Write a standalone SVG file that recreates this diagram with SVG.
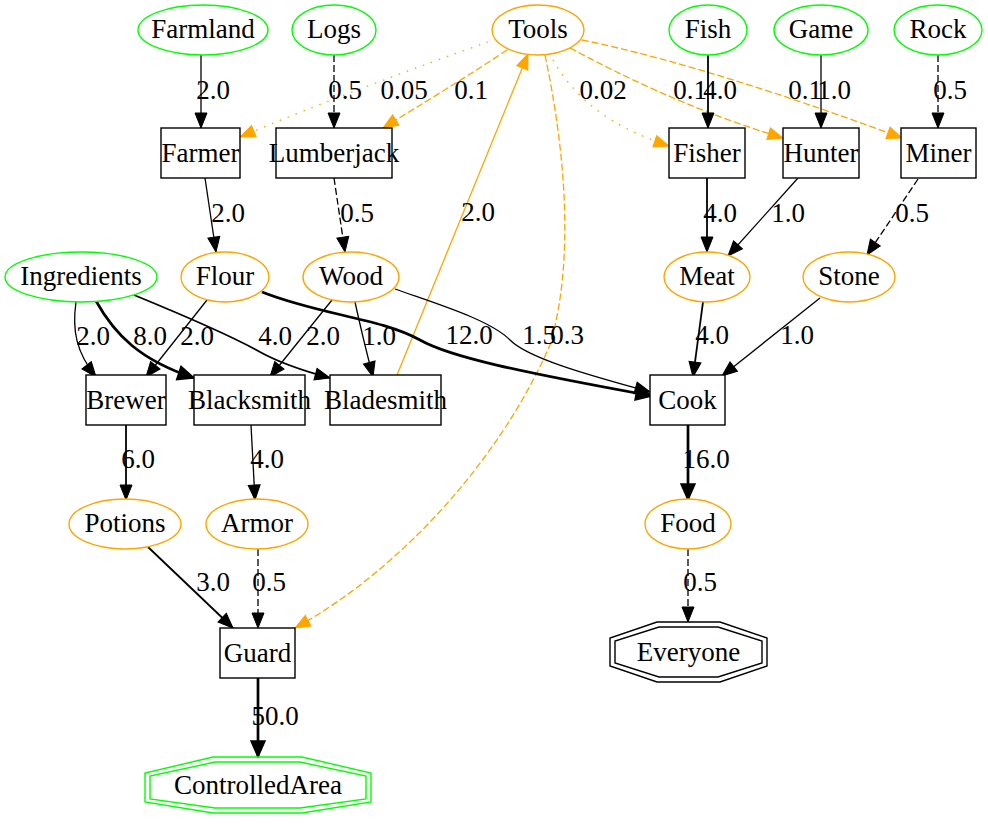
<svg xmlns="http://www.w3.org/2000/svg" width="988" height="824" viewBox="0 0 988 824">
<style>
text{font-family:"Liberation Serif","Times New Roman",serif;font-size:27px;fill:#000;text-anchor:middle}
.src{fill:#fff;stroke:#00ff00;stroke-width:1.4}
.res{fill:#fff;stroke:#ffa500;stroke-width:1.4}
.job{fill:#fff;stroke:#000;stroke-width:1.4}
.sinkg{fill:none;stroke:#00ff00;stroke-width:1.4}
.sinkb{fill:none;stroke:#000;stroke-width:1.4}
.e{fill:none;stroke:#000;stroke-width:1.3;marker-end:url(#ab)}
.m{stroke-width:1.8}
.b{stroke-width:2.7;marker-end:url(#abb)}
.o{stroke:#ffa500;marker-end:url(#ao)}
.d{stroke-dasharray:7,3}
.t{stroke-dasharray:1.5,7}
</style>
<defs>
<marker id="ab" markerUnits="userSpaceOnUse" markerWidth="16" markerHeight="13" refX="15" refY="6" orient="auto" overflow="visible"><path d="M0,0 L15,6 L0,12 Z" fill="#000" stroke="#000" stroke-width="1" stroke-dasharray="none"/></marker>
<marker id="abb" markerUnits="userSpaceOnUse" markerWidth="17" markerHeight="14" refX="16" refY="7" orient="auto" overflow="visible"><path d="M0,0 L16,7 L0,14 Z" fill="#000" stroke="#000" stroke-width="1.5" stroke-dasharray="none"/></marker>
<marker id="ao" markerUnits="userSpaceOnUse" markerWidth="16" markerHeight="13" refX="15" refY="6" orient="auto" overflow="visible"><path d="M0,0 L15,6 L0,12 Z" fill="#ffa500" stroke="#ffa500" stroke-width="1" stroke-dasharray="none"/></marker>
</defs>
<rect width="988" height="824" fill="#fff"/>
<g id="edges">
<path class="e" d="M201,55 L201,128"/>
<path class="e d" d="M334,55 L334,128"/>
<path class="e o t" d="M488,42 C420,66 320,103 240,137"/>
<path class="e o d" d="M507,50 C470,75 420,105 383,128"/>
<path class="e o" d="M397,375 L528,54"/>
<path class="e o d" d="M545,55 C565,150 575,260 550,345 C500,460 400,570 295,628"/>
<path class="e o t" d="M553,60 C572,92 600,123 669,146"/>
<path class="e o d" d="M570,48 C615,72 690,110 783,138"/>
<path class="e o d" d="M582,40 C680,60 800,100 902,138"/>
<path class="e m" d="M708,55 L708,128"/>
<path class="e" d="M821,55 L821,128"/>
<path class="e d" d="M938,55 L938,128"/>
<path class="e" d="M205,178 L216,252"/>
<path class="e d" d="M334,178 L345,252"/>
<path class="e m" d="M707,178 L707,252"/>
<path class="e" d="M798,178 L728,256"/>
<path class="e d" d="M918,179 L867,255"/>
<path class="e" d="M76,302 C72,330 76,352 96,377"/>
<path class="e b" d="M96,301 C115,335 140,360 194,378"/>
<path class="e m" d="M134,295 C190,318 230,335 260,352 C280,363 300,370 330,378"/>
<path class="e" d="M207,300 L146,377"/>
<path class="e b" d="M262,292 C320,315 380,318 420,340 C450,357 520,372 652,396"/>
<path class="e" d="M332,300 L270,377"/>
<path class="e" d="M355,302 C360,325 366,350 373,377"/>
<path class="e" d="M395,289 C440,305 490,320 510,340 C530,360 600,378 650,392"/>
<path class="e m" d="M703,302 L693,377"/>
<path class="e" d="M820,298 L722,376"/>
<path class="e m" d="M126,425 L126,500"/>
<path class="e" d="M251,425 L255,500"/>
<path class="e b" d="M688,425 L688,500"/>
<path class="e m" d="M148,547 L233,628"/>
<path class="e d" d="M258,549 L258,628"/>
<path class="e d" d="M688,549 L688,622"/>
<path class="e b" d="M258,678 L258,757"/>
<text x="213" y="99">2.0</text>
<text x="345" y="99">0.5</text>
<text x="404" y="99">0.05</text>
<text x="471" y="99">0.1</text>
<text x="603" y="99">0.02</text>
<text x="690" y="99">0.1</text>
<text x="720" y="99">4.0</text>
<text x="805" y="99">0.1</text>
<text x="834" y="99">1.0</text>
<text x="950" y="99">0.5</text>
<text x="228" y="222">2.0</text>
<text x="357" y="222">0.5</text>
<text x="478" y="221">2.0</text>
<text x="720" y="222">4.0</text>
<text x="788" y="222">1.0</text>
<text x="912" y="222">0.5</text>
<text x="93" y="345">2.0</text>
<text x="150" y="345">8.0</text>
<text x="197" y="345">2.0</text>
<text x="275" y="345">4.0</text>
<text x="323" y="345">2.0</text>
<text x="379" y="345">1.0</text>
<text x="469" y="344">12.0</text>
<text x="539" y="344">1.5</text>
<text x="567" y="344">0.3</text>
<text x="712" y="344">4.0</text>
<text x="797" y="344">1.0</text>
<text x="138" y="468">6.0</text>
<text x="267" y="468">4.0</text>
<text x="706" y="468">16.0</text>
<text x="213" y="591">3.0</text>
<text x="269" y="591">0.5</text>
<text x="700" y="591">0.5</text>
<text x="275" y="725">50.0</text>
</g>
<g id="Farmland"><ellipse class="src" cx="203" cy="30" rx="65" ry="25"/><text x="203" y="38">Farmland</text></g>
<g id="Logs"><ellipse class="src" cx="334" cy="30" rx="42" ry="25"/><text x="334" y="38">Logs</text></g>
<g id="Tools"><ellipse class="res" cx="538" cy="30" rx="46" ry="25"/><text x="538" y="38">Tools</text></g>
<g id="Fish"><ellipse class="src" cx="708" cy="30" rx="39" ry="25"/><text x="708" y="38">Fish</text></g>
<g id="Game"><ellipse class="src" cx="821" cy="30" rx="47" ry="25"/><text x="821" y="38">Game</text></g>
<g id="Rock"><ellipse class="src" cx="938" cy="30" rx="44" ry="25"/><text x="938" y="38">Rock</text></g>
<g id="Farmer"><rect class="job" x="161" y="128" width="79" height="50"/><text x="200.5" y="162">Farmer</text></g>
<g id="Lumberjack"><rect class="job" x="276" y="128" width="116" height="50"/><text x="334" y="162">Lumberjack</text></g>
<g id="Fisher"><rect class="job" x="669" y="128" width="76" height="50"/><text x="707" y="162">Fisher</text></g>
<g id="Hunter"><rect class="job" x="783" y="128" width="76" height="50"/><text x="821" y="162">Hunter</text></g>
<g id="Miner"><rect class="job" x="901" y="128" width="75" height="50"/><text x="938.5" y="162">Miner</text></g>
<g id="Ingredients"><ellipse class="src" cx="81" cy="277" rx="76" ry="25"/><text x="81" y="285">Ingredients</text></g>
<g id="Flour"><ellipse class="res" cx="225" cy="277" rx="44" ry="25"/><text x="225" y="285">Flour</text></g>
<g id="Wood"><ellipse class="res" cx="351" cy="277" rx="48" ry="25"/><text x="351" y="285">Wood</text></g>
<g id="Meat"><ellipse class="res" cx="707" cy="277" rx="43" ry="25"/><text x="707" y="285">Meat</text></g>
<g id="Stone"><ellipse class="res" cx="849" cy="277" rx="46" ry="25"/><text x="849" y="285">Stone</text></g>
<g id="Brewer"><rect class="job" x="86" y="375" width="80" height="50"/><text x="126" y="409">Brewer</text></g>
<g id="Blacksmith"><rect class="job" x="194" y="375" width="111" height="50"/><text x="249.5" y="409">Blacksmith</text></g>
<g id="Bladesmith"><rect class="job" x="330" y="375" width="111" height="50"/><text x="385.5" y="409">Bladesmith</text></g>
<g id="Cook"><rect class="job" x="650" y="375" width="75" height="50"/><text x="687.5" y="409">Cook</text></g>
<g id="Potions"><ellipse class="res" cx="125" cy="524" rx="56" ry="25"/><text x="125" y="532">Potions</text></g>
<g id="Armor"><ellipse class="res" cx="257" cy="524" rx="51" ry="25"/><text x="257" y="532">Armor</text></g>
<g id="Food"><ellipse class="res" cx="688" cy="524" rx="43" ry="25"/><text x="688" y="532">Food</text></g>
<g id="Guard"><rect class="job" x="220" y="628" width="75" height="50"/><text x="257.5" y="662">Guard</text></g>
<g id="Everyone"><polygon class="sinkb" points="657,622 720,622 767,638 767,666 720,682 657,682 610,666 610,638"/><polygon class="sinkb" points="659,627 718,627 762,641 762,663 718,677 659,677 615,663 615,641"/><text x="688.5" y="661">Everyone</text></g>
<g id="ControlledArea"><polygon class="sinkg" points="213,757 302,757 371,773 371,802 302,813 213,813 145,802 145,773"/><polygon class="sinkg" points="215,762 300,762 366,776 366,799 300,808 215,808 150,799 150,776"/><text x="258" y="794">ControlledArea</text></g>
</svg>
